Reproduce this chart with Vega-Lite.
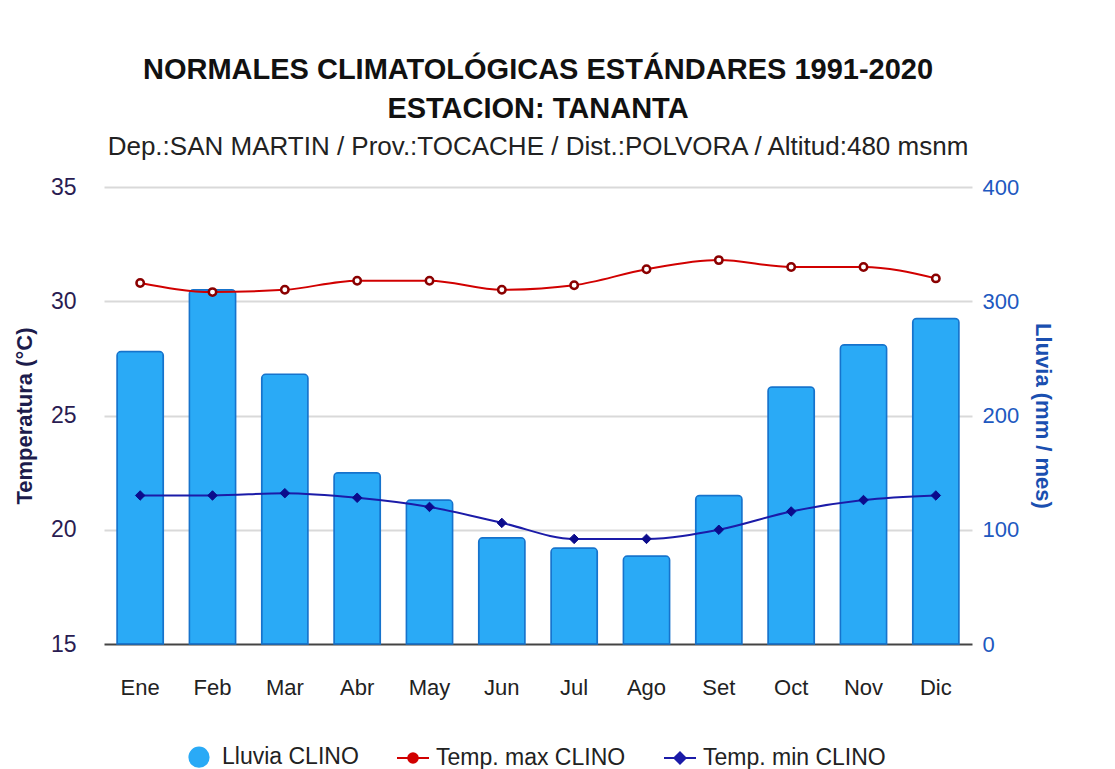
{
  "$schema": "https://vega.github.io/schema/vega-lite/v6.json",
  "width": 868,
  "height": 457,
  "autosize": {"type": "none"},
  "padding": {"left": 104, "top": 187, "right": 143, "bottom": 125},
  "background": "white",
  "config": {"view": {"stroke": null}, "font": "Liberation Sans"},
  "datasets": {
    "lluvia": [
      {"mes": "Ene", "lluvia": 256},
      {"mes": "Feb", "lluvia": 310},
      {"mes": "Mar", "lluvia": 236},
      {"mes": "Abr", "lluvia": 150},
      {"mes": "May", "lluvia": 126},
      {"mes": "Jun", "lluvia": 93},
      {"mes": "Jul", "lluvia": 84},
      {"mes": "Ago", "lluvia": 77},
      {"mes": "Set", "lluvia": 130},
      {"mes": "Oct", "lluvia": 225},
      {"mes": "Nov", "lluvia": 262},
      {"mes": "Dic", "lluvia": 285}
    ],
    "temp": [
      {"mes": "Ene", "serie": "Temp. max CLINO", "valor": 30.8},
      {"mes": "Feb", "serie": "Temp. max CLINO", "valor": 30.4},
      {"mes": "Mar", "serie": "Temp. max CLINO", "valor": 30.5},
      {"mes": "Abr", "serie": "Temp. max CLINO", "valor": 30.9},
      {"mes": "May", "serie": "Temp. max CLINO", "valor": 30.9},
      {"mes": "Jun", "serie": "Temp. max CLINO", "valor": 30.5},
      {"mes": "Jul", "serie": "Temp. max CLINO", "valor": 30.7},
      {"mes": "Ago", "serie": "Temp. max CLINO", "valor": 31.4},
      {"mes": "Set", "serie": "Temp. max CLINO", "valor": 31.8},
      {"mes": "Oct", "serie": "Temp. max CLINO", "valor": 31.5},
      {"mes": "Nov", "serie": "Temp. max CLINO", "valor": 31.5},
      {"mes": "Dic", "serie": "Temp. max CLINO", "valor": 31.0},
      {"mes": "Ene", "serie": "Temp. min CLINO", "valor": 21.5},
      {"mes": "Feb", "serie": "Temp. min CLINO", "valor": 21.5},
      {"mes": "Mar", "serie": "Temp. min CLINO", "valor": 21.6},
      {"mes": "Abr", "serie": "Temp. min CLINO", "valor": 21.4},
      {"mes": "May", "serie": "Temp. min CLINO", "valor": 21.0},
      {"mes": "Jun", "serie": "Temp. min CLINO", "valor": 20.3},
      {"mes": "Jul", "serie": "Temp. min CLINO", "valor": 19.6},
      {"mes": "Ago", "serie": "Temp. min CLINO", "valor": 19.6},
      {"mes": "Set", "serie": "Temp. min CLINO", "valor": 20.0},
      {"mes": "Oct", "serie": "Temp. min CLINO", "valor": 20.8},
      {"mes": "Nov", "serie": "Temp. min CLINO", "valor": 21.3},
      {"mes": "Dic", "serie": "Temp. min CLINO", "valor": 21.5}
    ]
  },
  "title": {
    "text": ["NORMALES CLIMATOLÓGICAS ESTÁNDARES 1991-2020", "ESTACION: TANANTA"],
    "subtitle": "Dep.:SAN MARTIN / Prov.:TOCACHE / Dist.:POLVORA / Altitud:480 msnm",
    "anchor": "middle",
    "frame": "group",
    "font": "Liberation Sans",
    "fontSize": 29,
    "fontWeight": "bold",
    "color": "#111111",
    "lineHeight": 39,
    "subtitleFont": "Liberation Sans",
    "subtitleFontSize": 26,
    "subtitleColor": "#222222",
    "subtitlePadding": 10,
    "offset": 16
  },
  "layer": [
    {
      "data": {"name": "lluvia"},
      "mark": {
        "type": "bar",
        "width": {"band": 0.64},
        "stroke": "#1673cc",
        "strokeWidth": 1.5,
        "cornerRadiusTopLeft": 4,
        "cornerRadiusTopRight": 4
      },
      "encoding": {
        "x": {
          "field": "mes", "type": "nominal",
          "sort": ["Ene","Feb","Mar","Abr","May","Jun","Jul","Ago","Set","Oct","Nov","Dic"],
          "scale": {"type": "band", "paddingInner": 0, "paddingOuter": 0},
          "axis": {"title": null, "labelAngle": 0, "labelFont": "Liberation Sans", "labelFontSize": 22, "labelColor": "#222222", "labelPadding": 33, "ticks": false, "domain": false}
        },
        "y": {
          "field": "lluvia", "type": "quantitative",
          "scale": {"domain": [0, 400]},
          "axis": {
            "orient": "right", "values": [0, 100, 200, 300, 400], "grid": false, "ticks": false, "domain": false,
            "title": "Lluvia (mm / mes)", "titleFont": "Liberation Sans", "titleFontSize": 22, "titleFontWeight": "bold", "titleColor": "#1a4fb0", "titlePadding": 12,
            "labelFont": "Liberation Sans", "labelFontSize": 22, "labelColor": "#2058c0", "labelPadding": 10
          }
        },
        "color": {
          "datum": "Lluvia CLINO",
          "scale": {"domain": ["Lluvia CLINO", "Temp. max CLINO", "Temp. min CLINO"], "range": ["#2aaaf6", "#d10000", "#1b1ba8"]},
          "legend": {
            "title": null,
            "orient": "none",
            "legendX": 78,
            "legendY": 553,
            "direction": "horizontal",
            "padding": 0,
            "columnPadding": 34,
            "labelFont": "Liberation Sans",
            "labelFontSize": 23,
            "labelColor": "#222222",
            "labelOffset": 6,
            "labelLimit": 400,
            "symbolSize": 1024,
            "symbolOpacity": 1,
            "encode": {
              "symbols": {
                "update": {
                  "shape": {"signal": "datum.value === 'Lluvia CLINO' ? 'M-0.6,0A0.6,0.6,0,1,1,0.6,0A0.6,0.6,0,1,1,-0.6,0Z' : datum.value === 'Temp. max CLINO' ? 'M-1,0L-0.3,0M0.3,0L1,0M-0.3,0A0.3,0.3,0,1,1,0.3,0A0.3,0.3,0,1,1,-0.3,0Z' : 'M-1,0L-0.35,0M0.35,0L1,0M-0.35,0L0,-0.35L0.35,0L0,0.35Z'"},
                  "fill": {"signal": "datum.value === 'Lluvia CLINO' ? '#1f9cf0' : datum.value === 'Temp. max CLINO' ? '#ffffff' : '#0b0b8c'"},
                  "stroke": {"signal": "datum.value === 'Lluvia CLINO' ? '#1673cc' : datum.value === 'Temp. max CLINO' ? '#c00000' : '#1b1ba8'"},
                  "strokeWidth": {"value": 2},
                  "opacity": {"value": 1},
                  "fillOpacity": {"value": 1}
                }
              }
            }
          }
        }
      }
    },
    {
      "data": {"name": "temp"},
      "encoding": {
        "x": {
          "field": "mes", "type": "nominal",
          "sort": ["Ene","Feb","Mar","Abr","May","Jun","Jul","Ago","Set","Oct","Nov","Dic"]
        },
        "y": {
          "field": "valor", "type": "quantitative",
          "scale": {"domain": [15, 35]},
          "axis": {
            "orient": "left", "values": [15, 20, 25, 30, 35], "ticks": false, "domain": false,
            "grid": true,
            "gridColor": {"condition": {"test": "datum.value <= 15", "value": "#444444"}, "value": "#d9d9d9"},
            "gridWidth": 2,
            "title": "Temperatura (°C)", "titleFont": "Liberation Sans", "titleFontSize": 22, "titleFontWeight": "bold", "titleColor": "#1c1c4c", "titlePadding": 14,
            "labelFont": "Liberation Sans", "labelFontSize": 23, "labelColor": "#2a1c52", "labelPadding": 28
          }
        }
      },
      "layer": [
        {
          "mark": {"type": "line", "interpolate": "monotone", "strokeWidth": 2},
          "encoding": {
            "color": {
              "field": "serie", "type": "nominal",
              "legend": {
                "title": null,
                "orient": "none",
                "legendX": 78,
                "legendY": 553,
                "direction": "horizontal",
                "padding": 0,
                "columnPadding": 34,
                "labelFont": "Liberation Sans",
                "labelFontSize": 23,
                "labelColor": "#222222",
                "labelOffset": 6,
                "labelLimit": 400,
                "symbolSize": 1024,
                "symbolOpacity": 1,
                "encode": {
                  "symbols": {
                    "update": {
                      "shape": {"signal": "datum.value === 'Lluvia CLINO' ? 'M-0.6,0A0.6,0.6,0,1,1,0.6,0A0.6,0.6,0,1,1,-0.6,0Z' : datum.value === 'Temp. max CLINO' ? 'M-1,0L-0.3,0M0.3,0L1,0M-0.3,0A0.3,0.3,0,1,1,0.3,0A0.3,0.3,0,1,1,-0.3,0Z' : 'M-1,0L-0.35,0M0.35,0L1,0M-0.35,0L0,-0.35L0.35,0L0,0.35Z'"},
                      "fill": {"signal": "datum.value === 'Lluvia CLINO' ? '#1f9cf0' : datum.value === 'Temp. max CLINO' ? '#ffffff' : '#0b0b8c'"},
                      "stroke": {"signal": "datum.value === 'Lluvia CLINO' ? '#1673cc' : datum.value === 'Temp. max CLINO' ? '#c00000' : '#1b1ba8'"},
                      "strokeWidth": {"value": 2},
                      "opacity": {"value": 1},
                      "fillOpacity": {"value": 1}
                    }
                  }
                }
              }
            }
          }
        },
        {
          "transform": [{"filter": "datum.serie === 'Temp. max CLINO'"}],
          "mark": {"type": "point", "shape": "circle", "filled": true, "fill": "#ffffff", "stroke": "#8a0000", "strokeWidth": 2.5, "size": 55, "opacity": 1}
        },
        {
          "transform": [{"filter": "datum.serie === 'Temp. min CLINO'"}],
          "mark": {"type": "point", "shape": "diamond", "filled": true, "fill": "#0b0b8c", "stroke": "#0b0b8c", "strokeWidth": 1, "size": 90, "opacity": 1}
        }
      ]
    }
  ],
  "resolve": {"scale": {"y": "independent"}}
}
